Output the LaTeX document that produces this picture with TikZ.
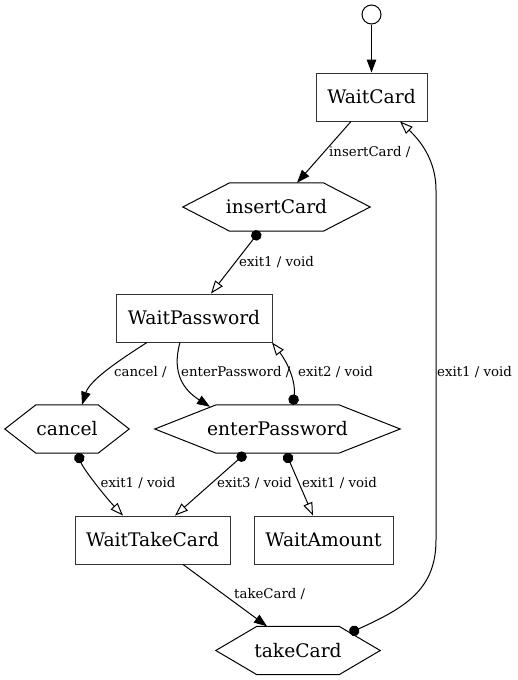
\documentclass[tikz,border=0pt]{standalone}
\usepackage{fontspec}
\setmainfont{DejaVu Serif}
\usepackage{tikz}
\usetikzlibrary{calc,arrows.meta}
\definecolor{ink}{HTML}{000000}
\definecolor{edge}{HTML}{333333}
\tikzset{
  base/.style={draw=ink, line width=1pt, line join=miter},
  state/.style={draw=edge, line width=0.9pt, rectangle, minimum height=48pt, inner sep=0pt, font=\fontsize{18.67}{22}\selectfont},
  choice/.style={rectangle, minimum height=48pt, inner sep=0pt, font=\fontsize{18.67}{22}\selectfont},
  trig/.style={base, -{Triangle[length=13pt,width=9.5pt]}},
  ext/.style={base, {Circle[length=10.5pt]}-{Triangle[open,length=13pt,width=9.5pt]}},
  lab/.style={text=ink, inner sep=0pt, anchor=base west, font=\fontsize{13.33}{15}\selectfont},
  init/.style={base, circle, minimum size=19pt, inner sep=0pt},
}

\begin{document}
\begin{tikzpicture}[x=1pt,y=-1pt]
  \useasboundingbox (0,0) rectangle (517,680);
  \node[init] (init) at (371.5,14.5) {};
  \node[state,minimum width=111pt] (WaitCard) at (371.5,97) {WaitCard};
  \node[choice,minimum width=187pt] (insC) at (276.5,207) {insertCard};
  \node[state,minimum width=156pt] (WaitPwd) at (194,318) {WaitPassword};
  \node[choice,minimum width=124pt] (cncl) at (67,429) {cancel};
  \node[choice,minimum width=245pt] (entP) at (277.5,429) {enterPassword};
  \node[state,minimum width=155pt] (WaitTake) at (152.5,540) {WaitTakeCard};
  \node[state,minimum width=139pt] (WaitAmt) at (323.5,540) {WaitAmount};
  \node[choice,minimum width=164pt] (takC) at (298,650.5) {takeCard};
  % hexagon outlines
  \foreach \n in {insC,cncl,entP,takC}
    \draw[base] (\n.west) -- ($(\n.north west)!.25!(\n.north east)$) -- ($(\n.north west)!.75!(\n.north east)$)
      -- (\n.east) -- ($(\n.south west)!.75!(\n.south east)$) -- ($(\n.south west)!.25!(\n.south east)$) -- cycle;
  \coordinate (bendLo) at (436,540);
  \coordinate (bendHi) at (436,190);
  % transitions
  \draw[trig] (init) -- (WaitCard);
  \draw[trig] ([xshift=-20.5pt]WaitCard.south) -- ([xshift=20.5pt]insC.north);
  \draw[ext] ([xshift=-17pt]insC.south) -- ([xshift=17pt]WaitPwd.north);
  \draw[trig] ([xshift=-47pt]WaitPwd.south) .. controls +(-28,18) and +(8,-25) .. ([xshift=15pt]cncl.north);
  \draw[trig] ([xshift=-14pt]WaitPwd.south) .. controls +(-9,32) and +(-25,-16) .. ([shift={(-67.5pt,-2pt)}]entP.north);
  \draw[ext] ([xshift=15.5pt]entP.north) .. controls +(3,-25) and +(14,18) .. ([xshift=78pt]WaitPwd.south);
  \draw[ext] ([xshift=10.5pt]cncl.south) .. controls +(6,16) and +(-18,-19) .. ([xshift=-29.5pt]WaitTake.north);
  \draw[ext] ([xshift=-32pt]entP.south) -- ([xshift=22.5pt]WaitTake.north);
  \draw[ext] ([xshift=8.5pt]entP.south) -- ([xshift=-10.5pt]WaitAmt.north);
  \draw[trig] ([xshift=30.5pt]WaitTake.south) -- ([xshift=-31pt]takC.north);
  \draw[ext] ([shift={(51.5pt,17.5pt)}]takC.center) .. controls +(55,-25) and +(0,50) .. (bendLo)
    -- (bendHi) .. controls +(0,-30) and +(20,19) .. ([xshift=28.5pt]WaitCard.south);
  % labels
  \node[lab] (l1) at (329,156) {insertCard /};
  \node[lab] (l2) at (239,266) {exit1 / void};
  \node[lab] (l3) at (114,376) {cancel /};
  \node[lab] (l4) at (181,376) {enterPassword /};
  \node[lab] (l5) at (298,376) {exit2 / void};
  \node[lab] (l6) at (437,376) {exit1 / void};
  \node[lab] (l7) at (100.5,487) {exit1 / void};
  \node[lab] (l8) at (217,487) {exit3 / void};
  \node[lab] (l9) at (302,487) {exit1 / void};
  \node[lab] (l10) at (234,598) {takeCard /};
\end{tikzpicture}
\end{document}
